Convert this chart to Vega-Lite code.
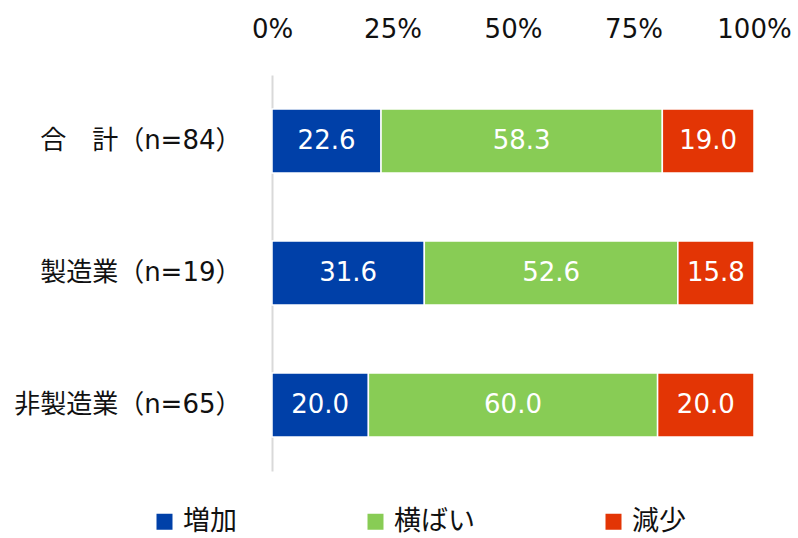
{
  "$schema": "https://vega.github.io/schema/vega-lite/v6.json",
  "width": 482,
  "height": 396,
  "autosize": {"type": "none"},
  "padding": {"left": 272, "top": 75, "right": 44, "bottom": 67},
  "background": "white",
  "config": {"view": {"stroke": null}},
  "data": {
    "values": [
      {"cat": "合　計（n=84）", "type": "増加", "value": 22.6},
      {"cat": "合　計（n=84）", "type": "横ばい", "value": 58.3},
      {"cat": "合　計（n=84）", "type": "減少", "value": 19.0},
      {"cat": "製造業（n=19）", "type": "増加", "value": 31.6},
      {"cat": "製造業（n=19）", "type": "横ばい", "value": 52.6},
      {"cat": "製造業（n=19）", "type": "減少", "value": 15.8},
      {"cat": "非製造業（n=65）", "type": "増加", "value": 20.0},
      {"cat": "非製造業（n=65）", "type": "横ばい", "value": 60.0},
      {"cat": "非製造業（n=65）", "type": "減少", "value": 20.0}
    ]
  },
  "transform": [
    {"stack": "value", "groupby": ["cat"], "offset": "normalize", "sort": [{"field": "type", "order": "ascending"}], "as": ["v0", "v1"]},
    {"calculate": "(datum.v0 + datum.v1) / 2", "as": "mid"}
  ],
  "encoding": {
    "y": {
      "field": "cat",
      "type": "nominal",
      "sort": ["合　計（n=84）", "製造業（n=19）", "非製造業（n=65）"],
      "scale": {"paddingInner": 0.515, "paddingOuter": 0.2576},
      "axis": {
        "title": null,
        "ticks": false,
        "domain": true,
        "domainColor": "#D9D9D9",
        "domainWidth": 2,
        "labelFont": "DejaVu Sans, Noto Sans CJK JP",
        "labelFontSize": 26,
        "labelColor": "#111111",
        "labelPadding": 31,
        "labelLimit": 400
      }
    }
  },
  "layer": [
    {
      "mark": {"type": "bar", "stroke": "white", "strokeWidth": 1.5},
      "encoding": {
        "x": {
          "field": "v0",
          "type": "quantitative",
          "scale": {"domain": [0, 1], "nice": false},
          "axis": {
            "orient": "top",
            "title": null,
            "values": [0, 0.25, 0.5, 0.75, 1],
            "format": ".0%",
            "grid": false,
            "ticks": false,
            "domain": false,
            "labelFlush": false,
            "labelBaseline": "alphabetic",
            "labelPadding": 38,
            "labelFont": "DejaVu Sans",
            "labelFontSize": 26,
            "labelColor": "#111111"
          }
        },
        "x2": {"field": "v1"},
        "color": {
          "field": "type",
          "type": "nominal",
          "scale": {"domain": ["増加", "横ばい", "減少"], "range": ["#0040A8", "#88CC55", "#E33505"]},
          "legend": {
            "title": null,
            "orient": "none",
            "direction": "horizontal",
            "legendX": -121,
            "legendY": 433,
            "symbolType": "square",
            "symbolSize": 256,
            "symbolStrokeWidth": 0,
            "symbolOpacity": 1,
            "labelOffset": 5,
            "columnPadding": 125,
            "labelFont": "DejaVu Sans, Noto Sans CJK JP",
            "labelFontSize": 27,
            "labelColor": "#111111"
          }
        }
      }
    },
    {
      "mark": {"type": "text", "color": "white", "font": "DejaVu Sans", "fontSize": 26, "baseline": "middle"},
      "encoding": {
        "x": {"field": "mid", "type": "quantitative"},
        "text": {"field": "value", "type": "quantitative", "format": ".1f"}
      }
    }
  ]
}
